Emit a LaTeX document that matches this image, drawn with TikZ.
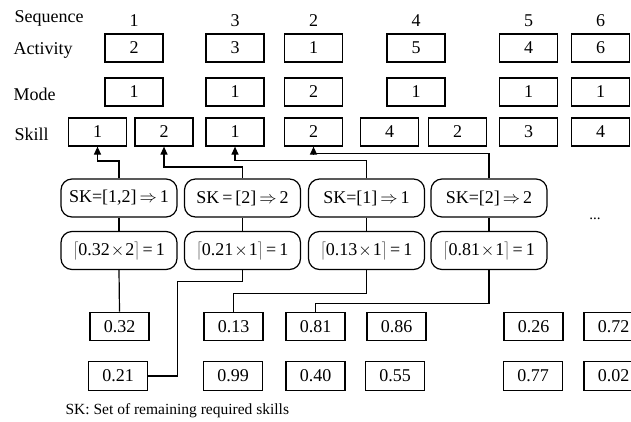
\documentclass[tikz,border=0pt]{standalone}
\usepackage{fontspec}
\setmainfont{Liberation Serif}
\usetikzlibrary{arrows.meta}
% tall ceiling brackets around a product
\newcommand{\ceilprod}[2]{$\left\lceil\rule[-5pt]{0pt}{19pt}\mbox{#1}\mskip1mu{\times}\mskip1mu\mbox{#2}\right\rceil$\,=\,1}
\begin{document}
\begin{tikzpicture}[x=1pt,y=-1pt,
  font=\fontsize{18}{20}\selectfont,
  line width=1.2pt,
  cell/.style={draw, minimum width=58pt, minimum height=28pt, inner sep=0pt},
  valbox/.style={draw, minimum width=59pt, minimum height=28.5pt, inner sep=0pt},
  rule/.style={draw, rounded corners=11pt, minimum width=116pt, minimum height=38pt, inner sep=0pt},
  rowlabel/.style={anchor=base west, inner sep=0pt},
  seqnum/.style={anchor=base, inner sep=0pt},
  arr/.style={-{Triangle[width=7pt,length=8pt]}}
]
\useasboundingbox (0,0) rectangle (631,421);
\clip (0,0) rectangle (631,421);

% row labels
\node[rowlabel] (lseq) at (14,22.7) {Sequence};
\node[rowlabel] (lact) at (13,54.2) {Activity};
\node[rowlabel] (lmod) at (13,100.3) {Mode};
\node[rowlabel] (lski) at (14,140.3) {Skill};

% sequence numbers
\node[seqnum] (q1) at (134,26) {1};
\node[seqnum] (q2) at (235,26) {3};
\node[seqnum] (q3) at (313.5,26) {2};
\node[seqnum] (q4) at (416,26) {4};
\node[seqnum] (q5) at (528.5,26) {5};
\node[seqnum] (q6) at (600.5,26) {6};

% activities
\node[cell] (a1) at (134,48) {2};
\node[cell] (a2) at (235,48) {3};
\node[cell] (a3) at (313.5,48) {1};
\node[cell] (a4) at (416,48) {5};
\node[cell] (a5) at (528.5,48) {4};
\node[cell] (a6) at (600.5,48) {6};

% modes
\node[cell] (m1) at (134,92) {1};
\node[cell] (m2) at (235,92) {1};
\node[cell] (m3) at (313.5,92) {2};
\node[cell] (m4) at (416,92) {1};
\node[cell] (m5) at (528.5,92) {1};
\node[cell] (m6) at (600.5,92) {1};

% skills
\node[cell] (s1) at (97.5,132) {1};
\node[cell] (s2) at (164,132) {2};
\node[cell] (s3) at (235,132) {1};
\node[cell] (s4) at (313.5,132) {2};
\node[cell] (s5) at (389.5,132) {4};
\node[cell] (s6) at (457.5,132) {2};
\node[cell] (s7) at (528.5,132) {3};
\node[cell] (s8) at (600.5,132) {4};

% skill selection rules
\node[rule] (r1) at (119,198) {SK=[1,2]\,$\Rightarrow$\,1};
\node[rule] (r2) at (242.5,198) {SK\,=\,[2]\,$\Rightarrow$\,2};
\node[rule] (r3) at (366.5,198) {SK=[1]\,$\Rightarrow$\,1};
\node[rule] (r4) at (489,198) {SK=[2]\,$\Rightarrow$\,2};
\node[inner sep=0pt, font=\fontsize{15}{17}\selectfont] (dots) at (595,219) {...};

% ceiling computations
\node[rule] (c1) at (119,250.5) {\ceilprod{0.32}{2}};
\node[rule] (c2) at (242.5,250.5) {\ceilprod{0.21}{1}};
\node[rule] (c3) at (366.5,250.5) {\ceilprod{0.13}{1}};
\node[rule] (c4) at (489,250.5) {\ceilprod{0.81}{1}};

% random keys
\node[valbox] (v32) at (119.5,326.4) {0.32};
\node[valbox] (v13) at (233.5,326.4) {0.13};
\node[valbox] (v81) at (315.5,326.4) {0.81};
\node[valbox] (v86) at (396.5,326.4) {0.86};
\node[valbox] (v26) at (533.5,326.4) {0.26};
\node[valbox] (v72) at (613.5,326.4) {0.72};
\node[valbox] (v21) at (118,375.9) {0.21};
\node[valbox] (v99) at (233,375.9) {0.99};
\node[valbox] (v40) at (315.5,375.9) {0.40};
\node[valbox] (v55) at (395,375.9) {0.55};
\node[valbox] (v77) at (533,375.9) {0.77};
\node[valbox] (v02) at (613.5,375.9) {0.02};

% rules to skills
\draw[arr] (r1.north) -- ++(0,-17.5) -| (s1.south);
\draw[arr] (r2.north) -- ++(0,-11.5) -| (s2.south);
\draw[arr] (r3.north) -- ++(0,-18) -| (s3.south);
\draw[arr] (r4.north) -- ++(0,-24.7) -| (s4.south);

% rules to ceilings
\draw (r1.south) -- (c1.north);
\draw (r2.south) -- (c2.north);
\draw (r3.south) -- (c3.north);
\draw (r4.south) -- (c4.north);

% ceilings to keys
\coordinate (bend2) at (177.3,0);
\draw (c1.south) -- (v32.north);
\draw (c2.south) -- ++(0,11.4) -| (bend2 |- v21.east) -- (v21.east);
\draw (c3.south) -- ++(0,23) -| (v13.north);
\draw (c4.south) -- ++(0,33) -| (v81.north);

% legend
\node[rowlabel, font=\fontsize{15.5}{17}\selectfont] (legend) at (65,414) {SK: Set of remaining required skills};
\end{tikzpicture}
\end{document}
